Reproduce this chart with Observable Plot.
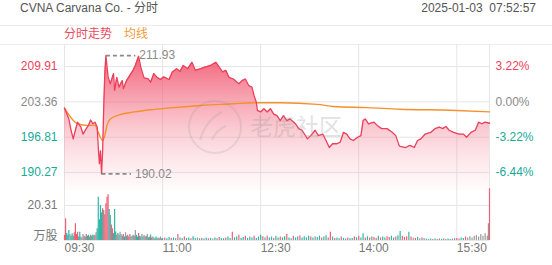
<!DOCTYPE html>
<html><head><meta charset="utf-8">
<script src="https://cdn.jsdelivr.net/npm/d3@7"></script>
<script src="https://cdn.jsdelivr.net/npm/@observablehq/plot@0.6"></script>
<style>
body{margin:0;background:#fff;font-family:"Liberation Sans","Noto Sans CJK SC",Arial,sans-serif;}
#wrap{position:relative;width:552px;height:265px;overflow:hidden;background:#fff;}
.abs{position:absolute;white-space:nowrap;}
.line{position:absolute;left:0;width:552px;height:1px;background:#ececec;}
#price{position:absolute;left:0;top:44px;}
#vol{position:absolute;left:0;top:190px;}
#wm{position:absolute;left:0;top:0;width:552px;height:265px;pointer-events:none;}
</style></head>
<body>
<div id="wrap">
  <div class="abs" style="left:20px;top:1px;font-size:12px;line-height:14px;color:#555">CVNA Carvana Co. - 分时</div>
  <div class="abs" style="right:16px;top:1px;font-size:12px;line-height:14px;color:#555">2025-01-03&nbsp;&nbsp;07:52:57</div>
  <div class="line" style="top:25px"></div>
  <div class="abs" style="left:64px;top:27px;font-size:12px;line-height:14px;color:#ea4b60">分时走势</div>
  <div class="abs" style="left:124px;top:27px;font-size:12px;line-height:14px;color:#f29a38">均线</div>
  <div class="line" style="top:44px"></div>
  <div id="price"></div>
  <div id="vol"></div>
  <svg id="wm" width="552" height="265">
    <g opacity="0.16" fill="none" stroke="#888" stroke-width="2">
      <circle cx="215" cy="127" r="26"></circle>
      <path d="M200 140 q6 -20 22 -28 M212 140 q4 -10 14 -14"></path>
    </g>
    <text x="250" y="135" font-size="23" fill="#999" opacity="0.28" font-family="Noto Sans CJK SC">老虎社区</text>
  </svg>
</div>
<script>
const prevClose = 203.36;
const xTickLabels = ["09:30","11:00","12:30","14:00","15:30"];
const priceTicks = [209.91, 203.36, 196.81, 190.27];
const volTickValue = 20.31;

const priceTimes = ["09:30","09:34","09:36","09:38","09:40","09:42","09:45","09:47","09:50","09:52","09:54","09:56","09:58","10:00","10:01","10:02","10:03","10:04","10:05","10:06","10:07","10:08","10:10","10:12","10:15","10:16","10:18","10:20","10:23","10:24","10:27","10:31","10:33","10:35","10:38","10:40","10:43","10:47","10:49","10:52","10:55","10:58","11:01","11:06","11:09","11:13","11:16","11:19","11:23","11:27","11:30","11:35","11:39","11:44","11:49","11:52","11:55","11:58","12:01","12:05","12:10","12:13","12:16","12:19","12:22","12:24","12:26","12:27","12:30","12:33","12:36","12:39","12:42","12:45","12:48","12:51","12:54","12:57","13:02","13:05","13:08","13:13","13:16","13:20","13:23","13:27","13:30","13:33","13:36","13:40","13:43","13:46","13:49","13:52","13:55","13:59","14:02","14:04","14:06","14:09","14:14","14:17","14:21","14:26","14:31","14:34","14:37","14:38","14:43","14:47","14:51","14:54","14:57","15:01","15:06","15:10","15:14","15:17","15:20","15:23","15:27","15:32","15:36","15:39","15:43","15:47","15:50","15:53","15:56","16:00"];
const priceValues = [202.2,200.2,198.1,196.5,198.1,199.6,198.7,197.4,198.4,199.0,200.0,199.3,199.6,198.7,194.9,191.9,194.3,190.02,194.3,202.4,208.6,211.93,208.0,206.7,208.6,205.5,207.9,206.1,207.3,205.8,207.3,208.6,209.2,210.1,211.8,209.8,207.8,207.6,207.0,208.6,207.9,207.5,208.0,207.5,208.9,209.5,209.0,210.1,209.5,210.7,209.2,209.5,209.8,210.1,210.7,209.8,208.9,209.2,207.9,207.6,206.7,207.3,207.6,206.4,206.1,204.5,203.3,201.8,201.5,202.1,201.5,202.1,201.1,200.8,199.9,200.8,199.9,200.2,199.3,198.4,198.1,196.5,197.1,198.1,197.1,197.4,196.2,194.9,195.6,195.6,195.9,197.7,197.4,196.5,196.2,196.8,197.1,199.9,200.2,199.3,199.6,199.0,198.4,198.4,197.7,197.1,195.3,195.1,194.9,195.3,194.9,196.2,196.5,197.4,197.7,198.4,198.7,198.4,198.8,198.1,197.7,197.4,197.4,196.8,197.7,198.1,199.6,199.3,199.6,199.4];

const avgTimes = ["09:30","09:42","09:51","09:58","10:01","10:05","10:07","10:09","10:12","10:21","10:34","10:49","11:04","11:35","12:05","12:24","12:48","13:22","13:37","14:08","14:38","15:24","16:00"];
const avgValues = [202.2,199.3,199.0,199.0,197.7,196.2,197.1,199.0,200.2,201.0,201.5,201.9,202.2,202.7,203.0,203.2,203.2,202.9,202.5,202.3,202.0,201.8,201.5];

// volume, 1-minute bars from 09:30 (first 90 minutes)
const volEarly = [3,12.6,4,3,5.8,3.5,2.5,3.9,2.5,4.5,9.7,3.5,4.8,2,4.8,2,1.5,3.5,2.5,2,3.5,2.5,3,2,3,2.5,3.2,2.8,3,4.5,6.8,25.1,12,20.3,16,18.4,17.4,15,21.3,25.1,26.5,18,14.5,9,6.8,4,18,5,3,4,3,4.8,3.5,2.5,3.5,2,4.5,2.5,3,2,3.5,2,2.5,3,2.5,5.8,3,2,4,2.5,2,3.5,2,3,2,2.5,3.5,1.5,2,3.2,1.5,2,1.5,1,2,1,1.5,1,2,1];
const dirEarly = "uudddnddduuuuddndnududdnduddunddddduduuuudduuddduddnndudnduuudndundduddndnudndndunnddd";
// volume, sampled every 2 minutes from 11:00
const volLate = [1.2,1.5,1.0,1.8,1.2,1.5,1.0,3.5,1.5,1.0,2.0,1.2,1.5,1.0,2.2,1.2,1.5,1.0,1.2,0.8,1.5,1.0,1.2,0.8,1.5,1.0,1.8,1.2,1.0,1.5,2.0,1.2,4.8,1.5,2.0,3.0,1.2,1.8,2.5,1.2,2.0,1.5,2.5,1.2,2.0,3.0,2.2,1.5,2.5,1.5,2.0,1.2,2.5,1.5,2.0,1.5,2.2,3.5,1.5,1.0,2.5,1.5,2.0,2.8,1.5,2.2,1.5,2.5,2.0,1.5,2.2,1.8,2.5,1.5,2.0,2.8,1.5,4.8,2.0,1.2,1.5,1.0,2.0,1.2,0.8,1.5,1.0,1.2,2.0,1.5,2.5,1.5,3.9,1.5,2.2,1.5,2.0,1.8,1.2,2.5,1.5,2.0,1.5,2.2,1.8,2.5,1.5,2.0,2.8,5.2,2.5,1.8,2.2,4.8,2.0,1.5,1.2,1.8,1.0,1.5,1.0,0.8,0.6,0.8,0.6,0.8,0.6,0.8,0.6,0.8,0.6,0.8,0.6,0.8,1.0,1.2,0.8,1.5,1.2,2.0,1.5,2.2,1.5,2.5,2.9,2.0,3.5,2.5,3.9,2.5];
const dirLate = "duddudduddudduddnduddudnddudduddudduddudddudddududduddudduddudduddddudnddudduududdudduddududdududuududduuddudduuudunudnudnddudduddudduduuddu";
const volClose = [9.7, 30.0];
const dirClose = "nu";

const toMin = s => { const [h, m] = s.split(":").map(Number); return (h - 9) * 60 + m - 30; };
const fmtMin = m => xTickLabels.find(l => toMin(l) === m) || "";
const xTicks = xTickLabels.map(toMin);

const price = priceTimes.map((t, i) => ({m: toMin(t), p: priceValues[i]}));
const avg = avgTimes.map((t, i) => ({m: toMin(t), p: avgValues[i]}));
const vol = [];
volEarly.forEach((v, i) => vol.push({m: i, v, d: dirEarly[i] || "n"}));
volLate.forEach((v, i) => vol.push({m: 90 + 2 * i, v, d: dirLate[i] || "n"}));
volClose.forEach((v, i) => vol.push({m: 389 + i, v, d: dirClose[i]}));

const RED = "#ec3f5b", TEAL = "#1aa99a", GREY = "#8a8a8a", ORANGE = "#f5902a", GRID = "#e6e6e6";
const dirColor = d => d === "u" ? "#f25d75" : d === "d" ? "#2fb5a5" : "#9a9a9a";
const tickColor = v => v > prevClose + 1e-9 ? RED : v < prevClose - 1e-9 ? TEAL : GREY;
const pct = v => ((v / prevClose - 1) * 100).toFixed(2) + "%";

const maxPt = price.reduce((a, b) => b.p > a.p ? b : a);
const minPt = price.reduce((a, b) => b.p < a.p ? b : a);
const yMin = 186.94, yMax = 213.99;
const fontFamily = '"Liberation Sans","Noto Sans CJK SC",Arial,sans-serif';

const pricePlot = Plot.plot({
  width: 552, height: 146,
  marginLeft: 64, marginRight: 63, marginTop: 0, marginBottom: 0,
  x: {domain: [0, 390], axis: null},
  y: {domain: [yMin, yMax], axis: null},
  color: {type: "identity"},
  style: {fontFamily, fontSize: "11.5px", background: "transparent", overflow: "visible"},
  marks: [
    Plot.ruleY(priceTicks, {stroke: GRID}),
    Plot.ruleX(xTicks.concat([390]), {stroke: GRID}),
    Plot.areaY(price, {x: "m", y1: yMin, y2: "p", fill: "url(#pgrad)"}),
    Plot.lineY(avg, {x: "m", y: "p", stroke: ORANGE, strokeWidth: 1.4, curve: "monotone-x"}),
    Plot.lineY(price, {x: "m", y: "p", stroke: RED, strokeWidth: 1.3}),
    Plot.link([maxPt, minPt], {x1: "m", y1: "p", x2: d => d.m + 27, y2: "p", stroke: GREY, strokeWidth: 1.6, strokeDasharray: "4,3"}),
    Plot.text([maxPt, minPt], {x: d => d.m + 27, y: "p", text: d => d.p.toFixed(2), dx: 4, textAnchor: "start", fill: GREY, fontSize: 12}),
    Plot.text(priceTicks, {y: d => d, frameAnchor: "left", dx: -7, textAnchor: "end", text: d => d.toFixed(2), fill: tickColor, fontSize: 12}),
    Plot.text(priceTicks, {y: d => d, frameAnchor: "right", dx: 6, textAnchor: "start", text: pct, fill: tickColor, fontSize: 12})
  ]
});
const defs = d3.select(pricePlot).insert("defs", ":first-child");
const g = defs.append("linearGradient").attr("id", "pgrad").attr("x1", 0).attr("y1", 0).attr("x2", 0).attr("y2", 1);
g.append("stop").attr("offset", "0%").attr("stop-color", "#f0405c").attr("stop-opacity", 0.82);
g.append("stop").attr("offset", "55%").attr("stop-color", "#f26a80").attr("stop-opacity", 0.35);
g.append("stop").attr("offset", "100%").attr("stop-color", "#f7a0ae").attr("stop-opacity", 0.04);
document.getElementById("price").appendChild(pricePlot);

const volPlot = Plot.plot({
  width: 552, height: 75,
  marginLeft: 64, marginRight: 63, marginTop: 0, marginBottom: 25,
  x: {domain: [0, 390], axis: null},
  y: {domain: [0, 29.0], axis: null},
  color: {type: "identity"},
  style: {fontFamily, fontSize: "12px", background: "transparent", overflow: "visible"},
  marks: [
    Plot.ruleX(xTicks.concat([390]), {stroke: GRID}),
    Plot.ruleY([0, volTickValue], {stroke: GRID}),
    Plot.ruleX(vol, {x: "m", y1: 0, y2: "v", stroke: d => dirColor(d.d), strokeWidth: 1.2}),
    Plot.text([volTickValue], {y: d => d, frameAnchor: "left", dx: -7, textAnchor: "end", text: d => d.toFixed(2), fill: "#777", fontSize: 12}),
    Plot.text(["万股"], {y: 0, frameAnchor: "left", dx: -7, dy: -4, textAnchor: "end", text: d => d, fill: "#777", fontSize: 12}),
    Plot.text(xTicks, {x: d => d, frameAnchor: "bottom", dy: 11, textAnchor: "start", text: fmtMin, fill: "#777", fontSize: 12})
  ]
});
document.getElementById("vol").appendChild(volPlot);
</script>
</body></html>
